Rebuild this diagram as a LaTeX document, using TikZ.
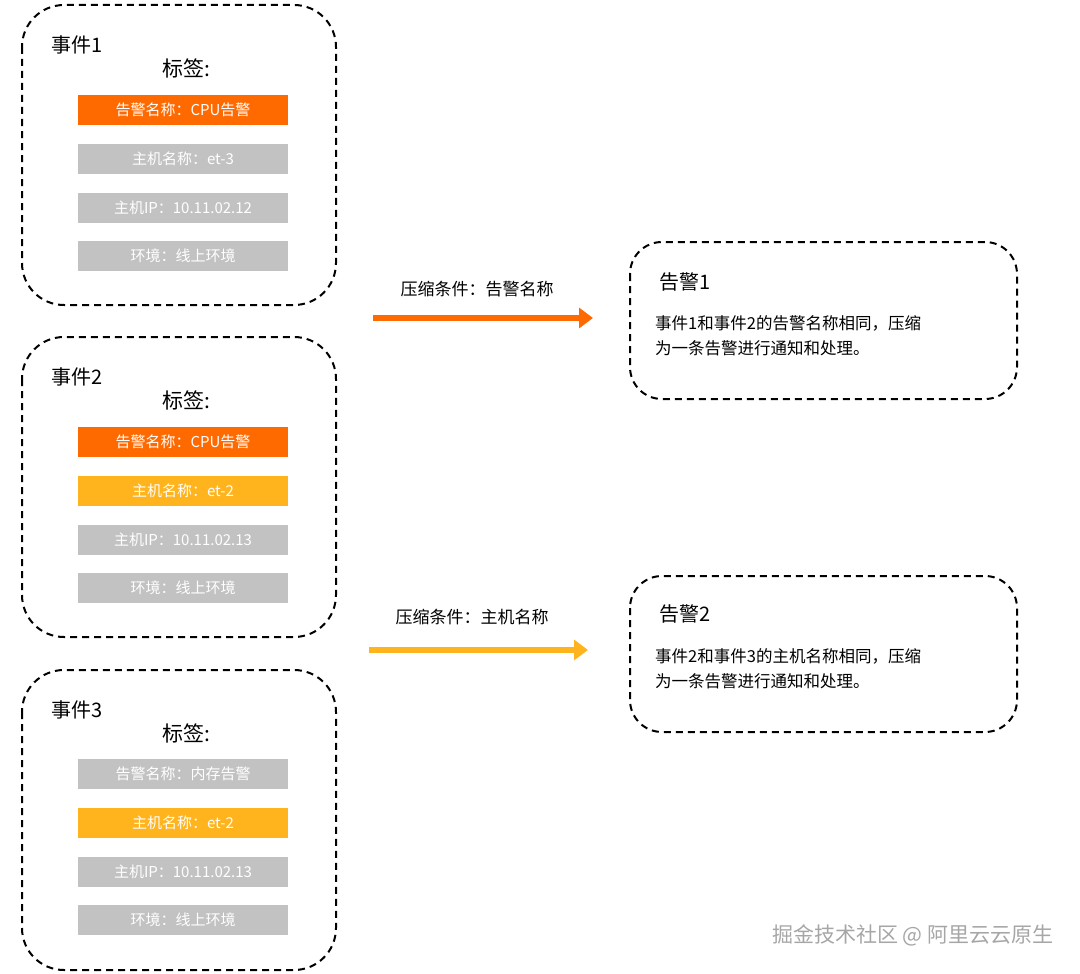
\documentclass[tikz,border=0pt]{standalone}
\usepackage{fontspec}
\setmainfont{Noto Sans CJK SC}
\usetikzlibrary{arrows.meta}
\definecolor{org}{HTML}{FF6A00}
\definecolor{yel}{HTML}{FFB41E}
\definecolor{gry}{HTML}{C2C2C2}
\begin{document}
\begin{tikzpicture}[x=1pt,y=-1pt,
 evbox/.style={draw,dashed,line width=2pt,dash pattern=on 7pt off 5pt,rounded corners=42pt},
 tag/.style={minimum width=210pt,minimum height=30pt,inner sep=0pt,text=white,font=\fontsize{15}{18}\selectfont},
 ttl/.style={font=\fontsize{20}{24}\selectfont,anchor=west},
 lbl/.style={font=\fontsize{17}{20}\selectfont}]
\useasboundingbox (0,0) rectangle (1080,974);
\foreach \n/\y in {1/5,2/337,3/670}{
 \draw[evbox] (22,\y) rectangle (336,\y+300);
 \node[ttl] (e\n) at (48,\y+40) {事件\n};
 \node[lbl,font=\fontsize{21}{24}\selectfont] (l\n) at (186,\y+63) {标签:};
}
\node[tag,fill=org] (a1) at (183,110) {告警名称：CPU告警};
\node[tag,fill=gry] (b1) at (183,159) {主机名称：et-3};
\node[tag,fill=gry] (c1) at (183,208) {主机IP：10.11.02.12};
\node[tag,fill=gry] (d1) at (183,256) {环境：线上环境};
\node[tag,fill=org] (a2) at (183,442) {告警名称：CPU告警};
\node[tag,fill=yel] (b2) at (183,491) {主机名称：et-2};
\node[tag,fill=gry] (c2) at (183,540) {主机IP：10.11.02.13};
\node[tag,fill=gry] (d2) at (183,588) {环境：线上环境};
\node[tag,fill=gry] (a3) at (183,774) {告警名称：内存告警};
\node[tag,fill=yel] (b3) at (183,823) {主机名称：et-2};
\node[tag,fill=gry] (c3) at (183,872) {主机IP：10.11.02.13};
\node[tag,fill=gry] (d3) at (183,920) {环境：线上环境};
\coordinate (s1) at (373,318); \coordinate (t1) at (593,318);
\coordinate (s2) at (369,650); \coordinate (t2) at (588,650);
\draw[org,line width=6pt,-{Triangle[length=14pt,width=20pt]}] (s1) -- (t1);
\draw[yel,line width=6pt,-{Triangle[length=14pt,width=20pt]}] (s2) -- (t2);
\node[lbl] (k1) at (477,289) {压缩条件：告警名称};
\node[lbl] (k2) at (472,617) {压缩条件：主机名称};
\draw[evbox,rounded corners=32pt] (630,242) rectangle (1017,399);
\draw[evbox,rounded corners=32pt] (630,576) rectangle (1017,732);
\node[ttl] (g1) at (656,282) {告警1};
\node[ttl] (g2) at (656,614) {告警2};
\node[anchor=north west,align=left,inner sep=0pt,font=\fontsize{16.5}{25}\selectfont] (x1) at (655,315) {事件1和事件2的告警名称相同，压缩\\为一条告警进行通知和处理。};
\node[anchor=north west,align=left,inner sep=0pt,font=\fontsize{16.5}{25}\selectfont] (x2) at (655,648) {事件2和事件3的主机名称相同，压缩\\为一条告警进行通知和处理。};
\node[anchor=east,text=gray!70,font=\fontsize{21}{24}\selectfont] (w) at (1057,935) {掘金技术社区 @ 阿里云云原生};
\end{tikzpicture}
\end{document}
